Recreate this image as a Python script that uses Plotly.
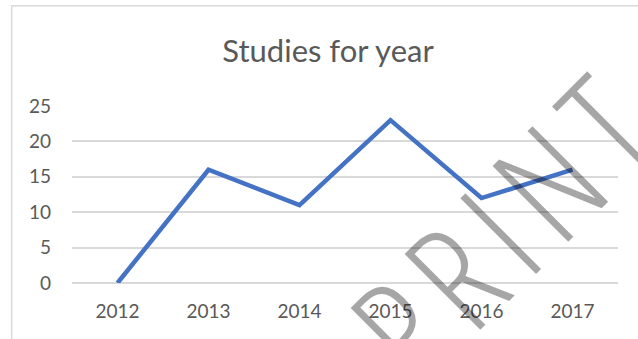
import plotly.graph_objects as go

years = ["2012", "2013", "2014", "2015", "2016", "2017"]
studies = [0, 16, 11, 23, 12, 16]
y_ticks = [0, 5, 10, 15, 20, 25]
title_text = "Studies for year"
watermark = "P\u200aR\u200aI\u200aN\u200aT"

W, H = 638, 339
L, R, T, B = 72, 20, 106, 56
pw, ph = W - L - R, H - T - B

def px_x(x):
    return (x - L) / pw

def px_y(y):
    return (H - B - y) / ph

fig = go.Figure()
fig.add_trace(go.Scatter(
    x=years, y=studies, mode="lines",
    line=dict(color="#4472C4", width=4.5),
    hoverinfo="skip", showlegend=False,
))

fig.update_layout(
    template="none",
    width=W, height=H,
    margin=dict(l=L, r=R, t=T, b=B, autoexpand=False),
    paper_bgcolor="white", plot_bgcolor="white",
    font=dict(family="Lato, Carlito, sans-serif", color="#595959"),
    title=dict(
        text=title_text, x=328 / W, xanchor="center",
        y=1 - 51 / H, yanchor="middle", yref="container",
        font=dict(size=31, color="#595959", family="Lato, sans-serif"),
    ),
    xaxis=dict(
        type="category", range=[-0.5, 5.5], showgrid=False, showline=False,
        automargin=False, ticks="", tickfont=dict(size=19, color="#595959"),
        ticklabelstandoff=15,
    ),
    yaxis=dict(
        range=[0, 25], tickvals=y_ticks, showgrid=True, gridcolor="#d9d9d9",
        gridwidth=1.5, zeroline=True, zerolinecolor="#d9d9d9", zerolinewidth=1.5,
        automargin=False, showline=False, ticks="",
        tickfont=dict(size=19, color="#595959"), ticklabelstandoff=20,
    ),
    shapes=[dict(
        type="rect", xref="paper", yref="paper",
        x0=px_x(11.7), x1=px_x(660), y0=px_y(360), y1=px_y(5.7),
        line=dict(color="#d9d9d9", width=1.5), fillcolor="rgba(0,0,0,0)",
        layer="below",
    )],
    annotations=[dict(
        text=watermark, xref="paper", yref="paper",
        x=px_x(500), y=px_y(228), xanchor="center", yanchor="middle",
        showarrow=False, textangle=-45,
        font=dict(family="Open Sans Condensed Light, Lato Light, sans-serif",
                  size=150, color="rgba(0,0,0,0.35)"),
    )],
)

fig.write_html(
    "out.html",
    config={"displayModeBar": False},
    post_script="document.body.style.margin='0';document.body.style.overflow='hidden';",
)
